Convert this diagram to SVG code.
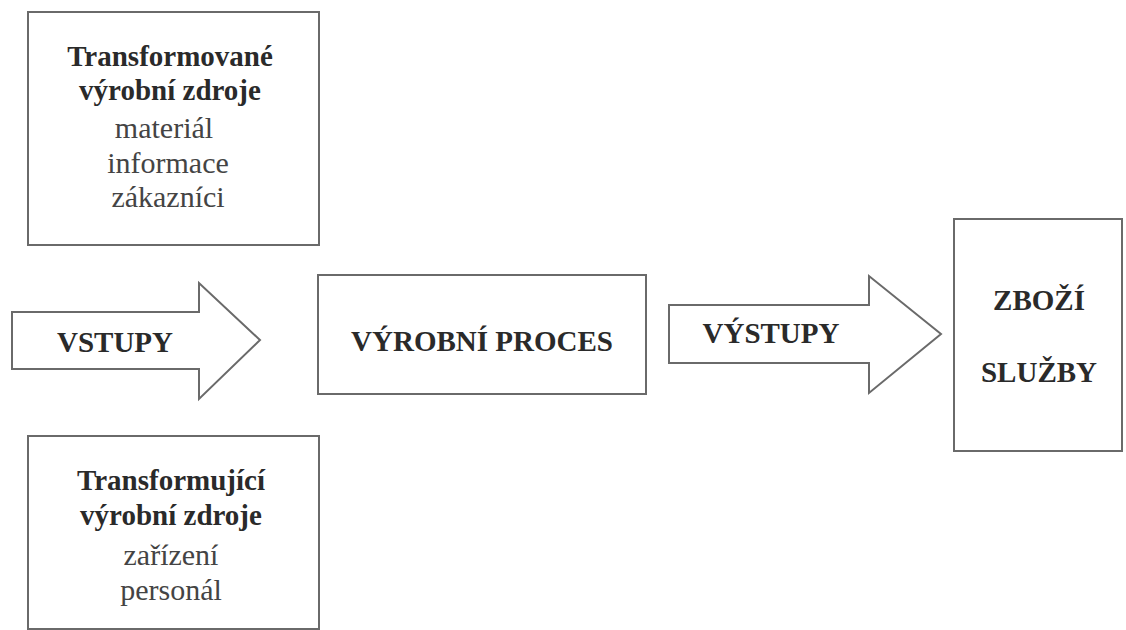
<svg xmlns="http://www.w3.org/2000/svg" width="1126" height="630" viewBox="0 0 1126 630">
<style>
.box{fill:#fff;stroke:#6a6a6a;stroke-width:2}
.arr{fill:#fff;stroke:#6a6a6a;stroke-width:2;stroke-linejoin:miter}
.b{font-family:"Liberation Serif","Times New Roman",serif;font-weight:bold;font-size:29px;fill:#2a2a2a;text-anchor:middle}
.r{font-family:"Liberation Serif","Times New Roman",serif;font-size:30px;fill:#444;text-anchor:middle}
</style>
<rect width="1126" height="630" fill="#fff"/>
<g id="transformovane">
<rect class="box" x="28" y="12" width="291" height="233"/>
<text class="b" x="170" y="66">Transformované</text>
<text class="b" x="170" y="100">výrobní zdroje</text>
<text class="r" x="164" y="138">materiál</text>
<text class="r" x="168" y="173">informace</text>
<text class="r" x="168" y="207">zákazníci</text>
</g>
<g id="transformujici">
<rect class="box" x="28" y="436" width="291" height="193"/>
<text class="b" x="171" y="490">Transformující</text>
<text class="b" x="171" y="525">výrobní zdroje</text>
<text class="r" x="171" y="565">zařízení</text>
<text class="r" x="171" y="600">personál</text>
</g>
<g id="connectors">
<g id="vstupy">
<path class="arr" d="M12,312 L199,312 L199,283 L260,340 L199,399 L199,369 L12,369 Z"/>
<text class="b" x="115" y="352">VSTUPY</text>
</g>
<g id="vystupy">
<path class="arr" d="M669,305 L869,305 L869,276 L941,334 L869,393 L869,363 L669,363 Z"/>
<text class="b" x="771" y="343">VÝSTUPY</text>
</g>
</g>
<g id="proces">
<rect class="box" x="318" y="275" width="328" height="119"/>
<text class="b" x="482" y="351">VÝROBNÍ PROCES</text>
</g>
<g id="zbozi">
<rect class="box" x="954" y="219" width="168" height="232"/>
<text class="b" x="1039" y="310">ZBOŽÍ</text>
<text class="b" x="1039" y="382">SLUŽBY</text>
</g>
</svg>
